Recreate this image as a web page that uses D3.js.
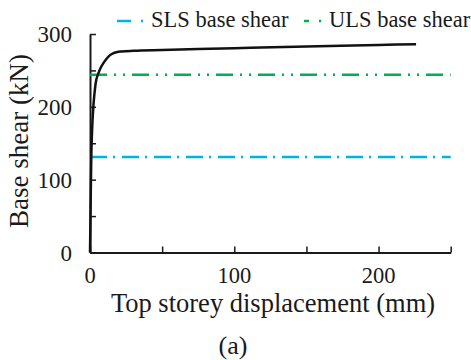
<!DOCTYPE html>
<html>
<head>
<meta charset="utf-8">
<script src="https://cdn.jsdelivr.net/npm/d3@7"></script>
<style>
  body { margin: 0; background: #fff; }
  text { font-family: "Liberation Serif", "Times New Roman", serif; fill: #1a1a1a; }
</style>
</head>
<body>
<svg id="chart" width="471" height="360"></svg>
<script>
// pushover curve
const dispMm  = [0, 0.3, 0.6, 0.9, 1.4, 2.3, 3.1, 3.9, 5.8, 7.5, 9.3, 11.5, 13.9, 16, 18.5, 22, 30, 50, 100, 150, 200, 226];
const shearKN = [0, 45, 90, 131, 165, 200, 218, 232, 246, 254, 260, 266, 271, 273.5, 275, 276, 277, 278, 280.5, 283, 285, 286];

// design levels
const levelNames = ["SLS base shear", "ULS base shear"];
const levelValues = [131, 244];
const levelColors = ["#00b0f0", "#00b050"];
const levelDash = ["17,6,2,7", "17,7,2,7,2,7"];

const xTicks = [0, 50, 100, 150, 200, 250];
const xLabels = [0, 100, 200];
const yTicks = [0, 50, 100, 150, 200, 250, 300];
const yLabels = [0, 100, 200, 300];

let svg = d3.select("#chart");

let margin = { top: 34, right: 20, bottom: 107.5, left: 90 },
    width = 450.7 - margin.left,
    height = 252.5 - margin.top;

let x = d3.scaleLinear().domain([0, 250]).range([0, width]),
    y = d3.scaleLinear().domain([0, 300]).range([height, 0]);

let g = svg.append("g")
    .attr("transform", "translate(" + margin.left + "," + margin.top + ")");

// axes, ticks pointing inward
let xAxis = g.append("g")
    .attr("transform", "translate(0," + height + ")")
    .call(d3.axisBottom(x).tickValues(xTicks).tickSizeInner(-6).tickSizeOuter(0).tickFormat(""));
let yAxis = g.append("g")
    .call(d3.axisLeft(y).tickValues(yTicks).tickSizeInner(-6).tickSizeOuter(0).tickFormat(""));

[xAxis, yAxis].forEach(a => {
    a.select(".domain").attr("stroke", "#1a1a1a").attr("stroke-width", 2);
    a.selectAll(".tick line").attr("stroke", "#1a1a1a").attr("stroke-width", 1.5);
});

// tick labels
g.selectAll(".xlab")
    .data(xLabels)
    .enter().append("text")
    .attr("x", d => x(d))
    .attr("y", height + 30.5)
    .attr("text-anchor", "middle")
    .attr("font-size", 22.5)
    .text(d => d);

g.selectAll(".ylab")
    .data(yLabels)
    .enter().append("text")
    .attr("x", -18)
    .attr("y", d => y(d) + 8)
    .attr("text-anchor", "end")
    .attr("font-size", 23)
    .text(d => d);

// horizontal design lines
g.selectAll(".level")
    .data(levelValues)
    .enter().append("line")
    .attr("x1", 0)
    .attr("x2", width)
    .attr("y1", d => y(d))
    .attr("y2", d => y(d))
    .attr("stroke", (d, i) => levelColors[i])
    .attr("stroke-width", 2.5)
    .attr("stroke-dasharray", (d, i) => levelDash[i]);

// capacity curve
let line = d3.line()
    .x(d => x(d[0]))
    .y(d => y(d[1]))
    .curve(d3.curveMonotoneX);

g.append("path")
    .datum(dispMm.map((d, i) => [d, shearKN[i]]))
    .attr("fill", "none")
    .attr("stroke", "#111")
    .attr("stroke-width", 2.5)
    .attr("d", line);

// axis titles
svg.append("text")
    .attr("x", 273)
    .attr("y", 312)
    .attr("text-anchor", "middle")
    .attr("font-size", 26.5)
    .text("Top storey displacement (mm)");

svg.append("text")
    .attr("transform", "translate(28,141) rotate(-90)")
    .attr("text-anchor", "middle")
    .attr("font-size", 27)
    .text("Base shear (kN)");

svg.append("text")
    .attr("x", 233)
    .attr("y", 354)
    .attr("text-anchor", "middle")
    .attr("font-size", 26)
    .text("(a)");

// legend: sample dash, dot, label
let legendX = [117, 304];
let legendText = [34, 25];
let leg = svg.selectAll(".leg")
    .data(levelNames)
    .enter().append("g")
    .attr("transform", (d, i) => "translate(" + legendX[i] + ",21)");

leg.append("line")
    .attr("x1", 0).attr("x2", (d, i) => legendText[i] - 20)
    .attr("stroke", (d, i) => levelColors[i])
    .attr("stroke-width", 2.5);
leg.append("line")
    .attr("x1", (d, i) => legendText[i] - 10).attr("x2", (d, i) => legendText[i] - 8)
    .attr("stroke", (d, i) => levelColors[i])
    .attr("stroke-width", 2.5);
leg.append("text")
    .attr("x", (d, i) => legendText[i])
    .attr("y", 6)
    .attr("font-size", 22.5)
    .text(d => d);
</script>
</body>
</html>
